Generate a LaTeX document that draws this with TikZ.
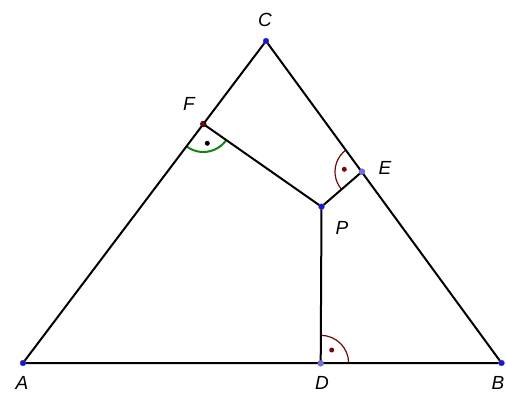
\documentclass[tikz,border=0pt]{standalone}
\usepackage{fontspec}
\setmainfont{Liberation Sans}
\usetikzlibrary{angles,quotes}
\definecolor{ptblue}{RGB}{20,20,230}
\definecolor{ptlight}{RGB}{110,110,250}
\definecolor{dred}{RGB}{110,10,10}
\definecolor{dgreen}{RGB}{20,130,20}
\begin{document}
\begin{tikzpicture}[x=1pt,y=1pt,
  seg/.style={line width=2pt,black},
  lab/.style={font=\fontsize{19}{20}\selectfont\itshape,inner sep=0pt},
  pt/.style={circle,fill=#1,draw=black!60,line width=0.3pt,inner sep=0pt,minimum size=6pt},
  mdot/.style={circle,fill=#1,inner sep=0pt,minimum size=5pt}]
\useasboundingbox (0,0) rectangle (506,392);
\coordinate (A) at (23,29);
\coordinate (B) at (501.5,29);
\coordinate (C) at (266,351);
\coordinate (F) at (203.3,268);
\coordinate (E) at (362,220.3);
\coordinate (P) at (321.5,185.3);
\coordinate (D) at (320.7,28.7);
% angle marks
\pic[draw=dgreen,line width=2pt,angle radius=28pt] {angle=A--F--P};
\pic[draw=dred,line width=1.2pt,angle radius=27pt] {angle=C--E--P};
\pic[draw=dred,line width=1.2pt,angle radius=28pt] {angle=B--D--P};
\node[mdot=black] (mf) at (207.3,248.7) {};
\node[mdot=dred] (me) at (344.3,222.7) {};
\node[mdot=dred] (md) at (331.7,42) {};
% sides
\draw[seg] (A) -- (B) -- (C) -- cycle;
\draw[seg] (F) -- (P) -- (E);
\draw[seg] (P) -- (D);
% points
\node[pt=ptblue] (nA) at (A) {};
\node[pt=ptblue] (nB) at (B) {};
\node[pt=ptblue] (nC) at (C) {};
\node[pt=dred,draw=black] (nF) at (F) {};
\node[pt=ptlight] (nE) at (E) {};
\node[pt=ptblue] (nP) at (P) {};
\node[pt=ptlight] (nD) at (D) {};
% labels
\node[lab] (lA) at (22,9) {A};
\node[lab] (lB) at (498,9) {B};
\node[lab] (lC) at (265,372) {C};
\node[lab] (lF) at (189,288) {F};
\node[lab] (lE) at (385,224) {E};
\node[lab] (lP) at (342,164) {P};
\node[lab] (lD) at (322,9) {D};
\end{tikzpicture}
\end{document}
